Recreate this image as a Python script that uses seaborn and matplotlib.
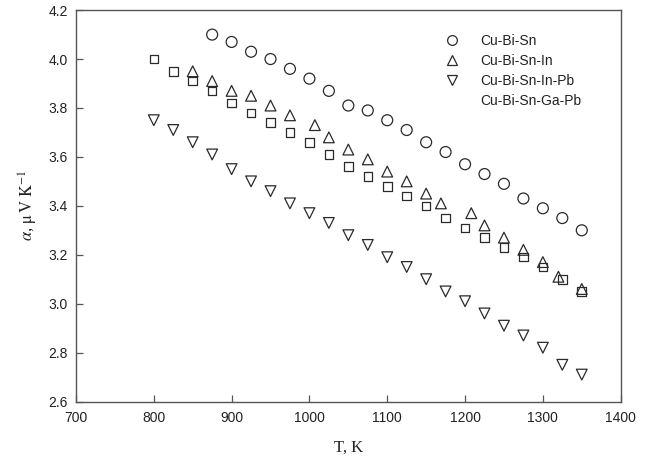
import matplotlib
matplotlib.use("Agg")
import matplotlib.pyplot as plt
from matplotlib.lines import Line2D
import seaborn as sns
import pandas as pd

# ---- data ----
T_cu_bi_sn = [875, 900, 925, 950, 975, 1000, 1025, 1050, 1075, 1100, 1125,
              1150, 1175, 1200, 1225, 1250, 1275, 1300, 1325, 1350]
a_cu_bi_sn = [4.10, 4.07, 4.03, 4.00, 3.96, 3.92, 3.87, 3.81, 3.79, 3.75, 3.71,
              3.66, 3.62, 3.57, 3.53, 3.49, 3.43, 3.39, 3.35, 3.30]

T_cu_bi_sn_in = [850, 875, 900, 925, 950, 975, 1007, 1025, 1050, 1075, 1100,
                 1125, 1150, 1169, 1208, 1225, 1250, 1275, 1300, 1320, 1350]
a_cu_bi_sn_in = [3.95, 3.91, 3.87, 3.85, 3.81, 3.77, 3.73, 3.68, 3.63, 3.59, 3.54,
                 3.50, 3.45, 3.41, 3.37, 3.32, 3.27, 3.22, 3.17, 3.11, 3.06]

T_cu_bi_sn_in_pb = [800, 825, 850, 875, 900, 925, 950, 975, 1000, 1025, 1050,
                    1075, 1100, 1125, 1150, 1175, 1200, 1225, 1250, 1275, 1300,
                    1325, 1350]
a_cu_bi_sn_in_pb = [3.75, 3.71, 3.66, 3.61, 3.55, 3.50, 3.46, 3.41, 3.37, 3.33, 3.28,
                    3.24, 3.19, 3.15, 3.10, 3.05, 3.01, 2.96, 2.91, 2.87, 2.82,
                    2.75, 2.71]

T_cu_bi_sn_ga_pb = [800, 825, 850, 875, 900, 925, 950, 975, 1000, 1025, 1050,
                    1075, 1100, 1125, 1150, 1175, 1200, 1225, 1250, 1275, 1300,
                    1325, 1350]
a_cu_bi_sn_ga_pb = [4.00, 3.95, 3.91, 3.87, 3.82, 3.78, 3.74, 3.70, 3.66, 3.61, 3.56,
                    3.52, 3.48, 3.44, 3.40, 3.35, 3.31, 3.27, 3.23, 3.19, 3.15,
                    3.10, 3.05]

labels = ["Cu-Bi-Sn", "Cu-Bi-Sn-In", "Cu-Bi-Sn-In-Pb", "Cu-Bi-Sn-Ga-Pb"]
x_ticks = [700, 800, 900, 1000, 1100, 1200, 1300, 1400]
y_ticks = [2.6, 2.8, 3.0, 3.2, 3.4, 3.6, 3.8, 4.0, 4.2]

# ---- style ----
sns.set_theme(style="ticks")
plt.rcParams["font.family"] = ["Liberation Sans", "DejaVu Sans"]
plt.rcParams["mathtext.fontset"] = "stix"

fig = plt.figure(figsize=(6.55, 4.61), dpi=100)
ax = fig.add_axes([0.116, 0.129, 0.8316, 0.849])

edge = "#2a2a2a"
series = [
    (T_cu_bi_sn, a_cu_bi_sn, "o", 62),
    (T_cu_bi_sn_in, a_cu_bi_sn_in, "^", 60),
    (T_cu_bi_sn_in_pb, a_cu_bi_sn_in_pb, "v", 60),
    (T_cu_bi_sn_ga_pb, a_cu_bi_sn_ga_pb, "s", 38),
]
for (T, a, m, s), lab in zip(series, labels):
    df = pd.DataFrame({"T": T, "a": a})
    sns.scatterplot(data=df, x="T", y="a", marker=m, s=s, ax=ax,
                    facecolors="none", edgecolor=edge, linewidth=0.9,
                    legend=False)

ax.set_xlim(700, 1400)
ax.set_ylim(2.6, 4.2)
ax.set_xticks(x_ticks)
ax.set_xticklabels([str(v) for v in x_ticks])
ax.set_yticks(y_ticks)
ax.set_yticklabels([f"{v:.1f}" for v in y_ticks])
ax.tick_params(direction="in", length=5, width=0.9, colors="#555555",
               labelcolor="#222222", labelsize=10, top=False, right=False)
ax.tick_params(axis="x", pad=7)
ax.tick_params(axis="y", pad=6)
for sp in ax.spines.values():
    sp.set_visible(True)
    sp.set_color("#555555")
    sp.set_linewidth(1.0)

ax.set_xlabel("T, K", family=["Liberation Serif", "DejaVu Serif"], fontsize=12,
              color="#222222", labelpad=10)
ax.set_ylabel(r"$\alpha$, $\mathrm{\mu\,V\ K^{-1}}$", family=["Liberation Serif", "DejaVu Serif"],
              fontsize=12, color="#222222", labelpad=6)

handles = [
    Line2D([], [], marker="o", ls="none", mfc="none", mec=edge, ms=7, mew=0.9),
    Line2D([], [], marker="^", ls="none", mfc="none", mec=edge, ms=7, mew=0.9),
    Line2D([], [], marker="v", ls="none", mfc="none", mec=edge, ms=7, mew=0.9),
    Line2D([], [], marker="None", ls="none"),
]
ax.legend(handles, labels, loc="upper left", bbox_to_anchor=(0.655, 0.953),
          frameon=False, fontsize=10, handletextpad=1.0, labelspacing=0.42,
          labelcolor="#222222", borderaxespad=0.0)

fig.savefig("out.png", dpi=100)
